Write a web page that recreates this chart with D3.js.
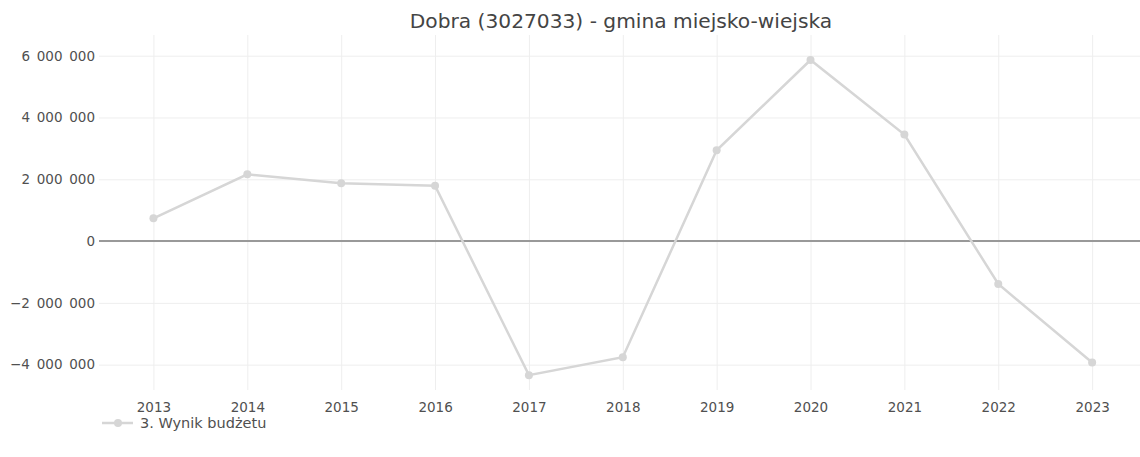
<!DOCTYPE html>
<html>
<head>
<meta charset="utf-8">
<script src="https://cdn.jsdelivr.net/npm/d3@7"></script>
<style>
  body { margin: 0; background: #fff; }
  svg text { font-family: Verdana, "DejaVu Sans", sans-serif; }
</style>
</head>
<body>
<svg id="chart" width="1140" height="457"></svg>
<script>
// values
var years  = [2013, 2014, 2015, 2016, 2017, 2018, 2019, 2020, 2021, 2022, 2023];
var wynik  = [735000, 2160000, 1870000, 1790000, -4340000, -3760000, 2940000, 5860000, 3450000, -1390000, -3930000];
var y_ticks = [-4000000, -2000000, 0, 2000000, 4000000, 6000000];
var title_text  = "Dobra (3027033) - gmina miejsko-wiejska";
var series_name = "3. Wynik budżetu";

var svg = d3.select("#chart");

var plot_left   = 99;
var plot_right  = 1140;
var plot_top    = 35;
var plot_bottom = 390;

// 2013 sits at ~153px, 2023 at ~1092px
var x = d3.scaleLinear()
  .domain([2012.42, 2023.51])
  .range([plot_left, plot_right]);

var y = d3.scaleLinear()
  .domain([-4820000, 6670000])
  .range([plot_bottom, plot_top]);

// thousands split with an en space, minus sign for negatives
var fmt = function (v) {
  var s = d3.format(",")(Math.abs(v)).replace(/,/g, "\u2002");
  return (v < 0 ? "\u2212" : "") + s;
};

var tick_color = "#505050";

// grid
var y_axis = d3.axisLeft(y).tickValues(y_ticks).tickSize(-(plot_right - plot_left)).tickFormat(fmt).tickPadding(4);
var gy = svg.append("g").attr("transform", "translate(" + plot_left + ",0)").call(y_axis);
gy.select(".domain").remove();
gy.selectAll("line").attr("stroke", "#eeeeee").attr("stroke-width", 1);
gy.selectAll("text").attr("fill", tick_color).style("font-size", "13.5px");

var x_axis = d3.axisBottom(x).tickValues(years).tickFormat(d3.format("d"))
  .tickSize(-(plot_bottom - plot_top)).tickPadding(12);
var gx = svg.append("g").attr("transform", "translate(0," + plot_bottom + ")").call(x_axis);
gx.select(".domain").remove();
gx.selectAll("line").attr("stroke", "#eeeeee").attr("stroke-width", 1);
gx.selectAll("text").attr("fill", tick_color).style("font-size", "13.5px");

// zero line
svg.append("line")
  .attr("x1", plot_left).attr("x2", plot_right)
  .attr("y1", y(0)).attr("y2", y(0))
  .attr("stroke", "#999").attr("stroke-width", 2);

var line_color = "#d6d6d6";

var line = d3.line()
  .x(function (d, i) { return x(years[i]); })
  .y(function (d) { return y(d); });

svg.append("path")
  .datum(wynik)
  .attr("d", line)
  .attr("fill", "none")
  .attr("stroke", line_color)
  .attr("stroke-width", 2.5);

svg.selectAll("circle.pt")
  .data(wynik)
  .enter().append("circle")
  .attr("class", "pt")
  .attr("cx", function (d, i) { return x(years[i]); })
  .attr("cy", function (d) { return y(d); })
  .attr("r", 4)
  .attr("fill", line_color);

// title
svg.append("text")
  .attr("x", 621)
  .attr("y", 28)
  .attr("text-anchor", "middle")
  .attr("fill", "#444")
  .style("font-size", "20.2px")
  .text(title_text);

// legend
var lg = svg.append("g").attr("transform", "translate(102,423)");
lg.append("line").attr("x1", 0).attr("x2", 31).attr("y1", 0).attr("y2", 0)
  .attr("stroke", line_color).attr("stroke-width", 2.5);
lg.append("circle").attr("cx", 16).attr("cy", 0).attr("r", 4).attr("fill", line_color);
lg.append("text").attr("x", 38).attr("y", 5)
  .attr("fill", tick_color).style("font-size", "14.5px")
  .text(series_name);
</script>
</body>
</html>
